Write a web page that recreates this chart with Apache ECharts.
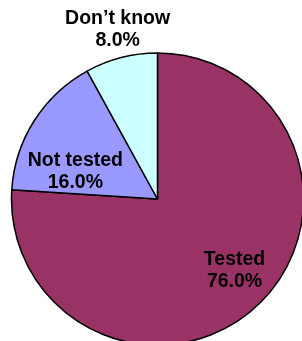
<!DOCTYPE html>
<html><head><meta charset="utf-8">
<script src="https://cdn.jsdelivr.net/npm/echarts@6/dist/echarts.min.js"></script>
<style>html,body{margin:0;padding:0;background:#fff;}#c{width:302px;height:341px;}</style>
</head><body><div id="c"></div>
<script>
const categories = ['Tested', 'Not tested', 'Don\u2019t know'];
const values = [76.0, 16.0, 8.0];
const colors = ['#993366', '#9999FF', '#CCFFFF'];
const labelOffsets = [[25, 16], [-18, 13], [-21, -96]];

const chart = echarts.init(document.getElementById('c'), null, {renderer: 'canvas'});
chart.setOption({
  animation: false,
  backgroundColor: '#ffffff',
  series: [{
    type: 'pie',
    center: [157.5, 199],
    radius: [0, 146],
    startAngle: 90,
    clockwise: true,
    avoidLabelOverlap: false,
    emphasis: {disabled: true},
    itemStyle: {borderColor: '#000', borderWidth: 1.5},
    label: {
      position: 'inside',
      color: '#000',
      fontFamily: 'Liberation Sans, Arial, sans-serif',
      fontWeight: 'bold',
      fontSize: 19.5,
      lineHeight: 22,
      align: 'center',
      formatter: p => p.name + '\n' + p.value.toFixed(1) + '%'
    },
    labelLine: {show: false},
    data: categories.map((c, i) => ({
      name: c, value: values[i],
      itemStyle: {color: colors[i]},
      label: {offset: labelOffsets[i]}
    }))
  }]
});
</script></body></html>
